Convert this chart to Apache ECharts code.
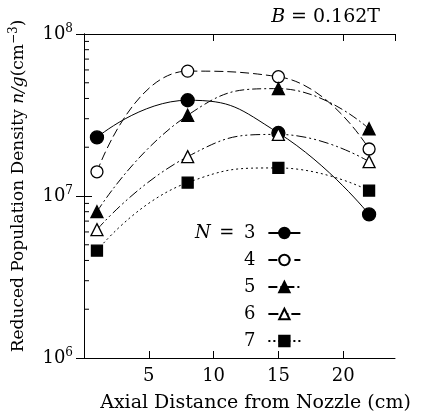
<!DOCTYPE html>
<html>
<head>
<meta charset="utf-8">
<script src="https://cdn.jsdelivr.net/npm/echarts@6/dist/echarts.min.js"></script>
<style>
  html, body { margin: 0; padding: 0; background: #fff; }
  #chart { width: 422px; height: 418px; }
</style>
</head>
<body>
<div id="chart"></div>
<script>
// axial distance (cm)
var distances = [1, 8, 15, 22];
// reduced population density n/g (cm^-3), one list per level N
var n3 = [2.3e7, 3.9e7, 2.45e7, 7.7e6];
var n4 = [1.41e7, 5.9e7, 5.45e7, 1.95e7];
var n5 = [8.0e6, 3.15e7, 4.6e7, 2.6e7];
var n6 = [6.2e6, 1.75e7, 2.4e7, 1.63e7];
var n7 = [4.6e6, 1.21e7, 1.49e7, 1.08e7];
var levels = ['3', '4', '5', '6', '7'];
// log minor ticks
var minorTicks = [2e6, 3e6, 4e6, 5e6, 6e6, 7e6, 8e6, 9e6, 2e7, 3e7, 4e7, 5e7, 6e7, 7e7, 8e7, 9e7];

var serif = 'DejaVu Serif';

function pairs (ys) {
  return distances.map(function (x, i) { return [x, ys[i]] })
}

function mkSeries (name, ys, symbol, filled, size, dash) {
  return {
    name: name,
    type: 'line',
    data: pairs(ys),
    smooth: 0.5,
    symbol: symbol,
    symbolSize: size,
    itemStyle: {
      color: filled ? '#000' : '#fff',
      borderColor: '#000',
      borderWidth: 1.3
    },
    lineStyle: { color: '#000', width: 1, type: dash },
    z: 3
  }
}

var chart = echarts.init(document.getElementById('chart'), null, { renderer: 'canvas' });

var option = {
  backgroundColor: '#fff',
  animation: false,
  textStyle: { fontFamily: serif, color: '#000' },
  title: {
    text: '{i|B} {t|= 0.162T}',
    right: 37,
    top: 3,
    textStyle: {
      fontWeight: 'normal',
      rich: {
        i: { fontFamily: serif, fontStyle: 'italic', fontWeight: 'normal', fontSize: 19, color: '#000' },
        t: { fontFamily: serif, fontWeight: 'normal', fontSize: 19, color: '#000' }
      }
    }
  },
  legend: {
    orient: 'vertical',
    left: 190,
    top: 219,
    align: 'right',
    itemWidth: 32,
    itemHeight: 13,
    itemGap: 9,
    data: levels.map(function (l) { return 'N' + l }),
    formatter: function (name) {
      var d = name.slice(1);
      if (d === '3') return '{i|N}{e|=}{t|' + d + '}';
      return '{i|\u00a0}{e|\u00a0}{t|' + d + '}';
    },
    textStyle: {
      rich: {
        i: { fontFamily: serif, fontStyle: 'italic', fontSize: 18, width: 15, lineHeight: 14, color: '#000' },
        e: { fontFamily: serif, fontSize: 18, width: 33, align: 'center', lineHeight: 14, color: '#000' },
        t: { fontFamily: serif, fontSize: 18, width: 12, lineHeight: 14, padding: [0, 8, 0, 0], color: '#000' }
      }
    }
  },
  grid: { left: 83, right: 27, top: 34, bottom: 58 },
  xAxis: [{
    type: 'value',
    min: 0,
    max: 24,
    interval: 5,
    name: 'Axial Distance from Nozzle (cm)',
    nameLocation: 'middle',
    nameGap: 36,
    nameTextStyle: { fontFamily: serif, fontSize: 19, color: '#000', padding: [0, 0, 0, 32] },
    axisLine: { onZero: false, lineStyle: { color: '#000', width: 1 } },
    axisTick: { inside: true, length: 7, lineStyle: { color: '#000' } },
    axisLabel: {
      fontFamily: serif, fontSize: 18, color: '#000', margin: 9,
      showMaxLabel: false,
      formatter: function (v) { return v === 0 ? '' : v }
    },
    splitLine: { show: false }
  }, {
    type: 'value',
    position: 'top',
    min: 0,
    max: 24,
    interval: 10,
    axisLine: { onZero: false, lineStyle: { color: '#000', width: 1 } },
    axisTick: { inside: true, length: 7, lineStyle: { color: '#000' } },
    axisLabel: { show: false },
    splitLine: { show: false }
  }],
  yAxis: [{
    type: 'log',
    logBase: 10,
    min: 1e6,
    max: 1e8,
    name: '{t|Reduced Population Density }{i|n/g}{t|(cm}{s|−3}{t|)}',
    nameLocation: 'middle',
    nameGap: 54,
    nameTextStyle: {
      padding: [0, 0, 0, 20],
      rich: {
        t: { fontFamily: serif, fontSize: 17, color: '#000' },
        i: { fontFamily: serif, fontStyle: 'italic', fontSize: 17, color: '#000' },
        s: { fontFamily: serif, fontSize: 12, color: '#000', padding: [0, 0, 10, 0] }
      }
    },
    axisLine: { show: true, lineStyle: { color: '#000', width: 1 } },
    axisTick: { inside: true, length: 8, lineStyle: { color: '#000' } },
    axisLabel: {
      margin: 11,
      formatter: function (v) {
        return '{b|10}{s|' + Math.round(Math.log10(v)) + '}';
      },
      rich: {
        b: { fontFamily: serif, fontSize: 18, color: '#000' },
        s: { fontFamily: serif, fontSize: 12, color: '#000', padding: [0, 0, 10, 0] }
      }
    },
    splitLine: { show: false }
  }, {
    type: 'log',
    logBase: 10,
    min: 1e6,
    max: 1e8,
    position: 'right',
    axisLine: { show: true, lineStyle: { color: '#000', width: 1 } },
    axisTick: { inside: true, length: 8, lineStyle: { color: '#000' } },
    axisLabel: { show: false },
    splitLine: { show: false }
  }],
  series: [
    mkSeries('N3', n3, 'circle', true, 13, 'solid'),
    mkSeries('N4', n4, 'circle', false, 12, [9, 4]),
    mkSeries('N5', n5, 'triangle', true, 12, [9, 3, 2, 3]),
    mkSeries('N6', n6, 'triangle', false, 12, [10, 3, 2, 3, 2, 3]),
    mkSeries('N7', n7, 'rect', true, 11, [2, 3]),
    {
      // minor ticks on the left log axis
      type: 'custom',
      silent: true,
      data: minorTicks.map(function (v) { return [1, v] }),
      renderItem: function (params, api) {
        var y = api.coord([1, api.value(1)])[1];
        var x0 = params.coordSys.x;
        return {
          type: 'line',
          shape: { x1: x0, y1: y, x2: x0 + 5, y2: y },
          style: { stroke: '#000', lineWidth: 1 }
        };
      },
      z: 2
    }
  ]
};

chart.setOption(option);
</script>
</body>
</html>
